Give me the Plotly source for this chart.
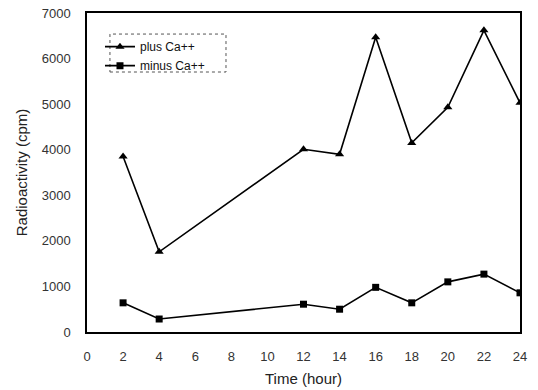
import plotly.graph_objects as go

time_hours = [2, 4, 12, 14, 16, 18, 20, 22, 24]
plus_ca = [3850, 1760, 4010, 3900, 6470, 4150, 4930, 6620, 5030]
minus_ca = [640, 285, 610, 500, 980, 640, 1100, 1270, 860]
x_ticks = [0, 2, 4, 6, 8, 10, 12, 14, 16, 18, 20, 22, 24]
y_ticks = [0, 1000, 2000, 3000, 4000, 5000, 6000, 7000]

fig = go.Figure()
fig.add_trace(go.Scatter(x=time_hours, y=plus_ca, mode="lines+markers", name="plus Ca++",
                         line=dict(color="black", width=1.6),
                         marker=dict(symbol="triangle-up", size=8, color="black")))
fig.add_trace(go.Scatter(x=time_hours, y=minus_ca, mode="lines+markers", name="minus Ca++",
                         line=dict(color="black", width=1.6),
                         marker=dict(symbol="square", size=7, color="black")))

font_family = "Liberation Sans, Arial, sans-serif"
fig.update_layout(
    width=538, height=390,
    margin=dict(l=87, r=18, t=13, b=58),
    paper_bgcolor="white", plot_bgcolor="white",
    font=dict(family=font_family, color="#222", size=12),
    showlegend=True,
    legend=dict(x=0.03, y=0.94, xanchor="left", yanchor="top",
                bgcolor="rgba(0,0,0,0)", borderwidth=0,
                font=dict(size=12, color="#111"),
                tracegroupgap=0, itemwidth=30),
    xaxis=dict(range=[0, 24], tickvals=x_ticks, showgrid=False, zeroline=False,
               showline=True, linecolor="black", linewidth=1.5, mirror=True,
               ticks="", ticklabelstandoff=12, automargin=False,
               tickfont=dict(size=13, color="#333"),
               title=dict(text="Time (hour)", font=dict(size=15, color="#222"), standoff=10)),
    yaxis=dict(range=[0, 7000], tickvals=y_ticks, showgrid=False, zeroline=False,
               showline=True, linecolor="black", linewidth=1.5, mirror=True,
               ticks="", ticklabelstandoff=12, automargin=False,
               tickfont=dict(size=13, color="#333"),
               title=dict(text="Radioactivity (cpm)", font=dict(size=15, color="#222"), standoff=10)),
)
fig.add_shape(type="rect", xref="paper", yref="paper",
              x0=0.053, x1=0.321, y0=0.815, y1=0.934,
              line=dict(color="#555", width=1, dash="dot"))
fig.write_html("out.html", config={"displayModeBar": False},
               post_script="document.body.style.margin='0';")
